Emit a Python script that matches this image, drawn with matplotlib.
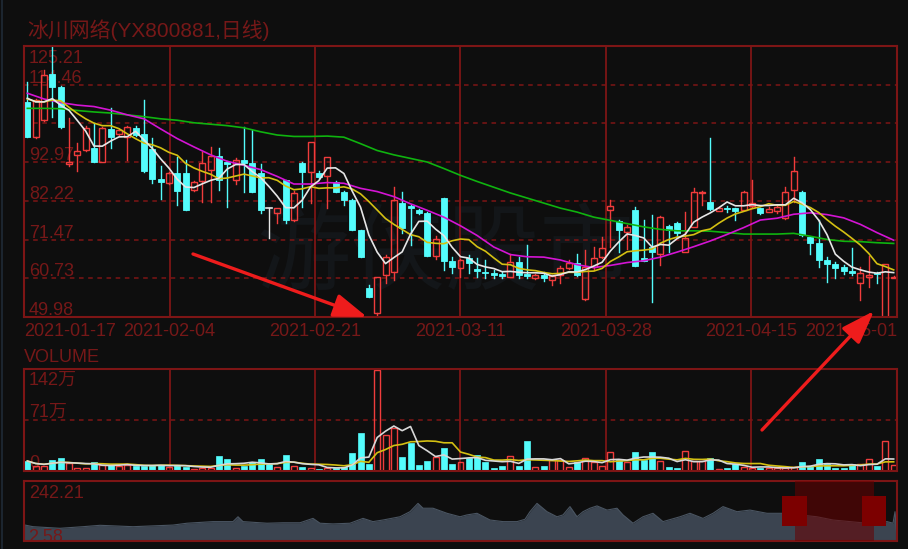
import numpy as np
import pandas as pd
import matplotlib
matplotlib.use('Agg')
import matplotlib.pyplot as plt
from matplotlib.patches import Rectangle

W, H = 908, 549
BG = '#0e0e0e'
RED = '#f03c3c'
CYAN = '#54fcfc'
DOJI = '#e8e8e8'
GRID = '#7d1515'
TXT = '#761818'
ARROW = '#ee1c1c'

title = '冰川网络(YX800881,日线)'
date_labels = ['2021-01-17', '2021-02-04', '2021-02-21', '2021-03-11',
               '2021-03-28', '2021-04-15', '2021-05-01']
price_levels = [49.98, 60.73, 71.47, 82.22, 92.97, 103.72, 114.46, 125.21]
price_shown = ['49.98', '60.73', '71.47', '82.22', '92.97', '', '114.46', '125.21']
vol_levels = [0, 71, 142]
vol_labels = ['0', '71万', '142万']
nav_labels = ['242.21', '2.58']

opens = [109.75, 100.0, 104.7, 117.4, 113.9, 92.5, 95.0, 96.3, 97.0, 93.1,
         102.1, 100.8, 100.0, 102.4, 100.7, 96.5, 88.2, 87.1, 89.9, 89.9,
         85.2, 87.8, 90.8, 94.7, 93.1, 88.0, 93.7, 92.8, 90.0, 80.15,
         78.8, 88.0, 76.9, 92.8, 90.3, 89.9, 89.1, 87.5, 84.8, 82.5,
         74.1, 57.9, 51.0, 61.6, 62.6, 81.7, 80.8, 79.7, 78.8, 66.9,
         82.9, 65.6, 63.7, 66.3, 63.2, 62.6, 62.1, 61.9, 61.2, 65.3,
         61.8, 60.8, 61.6, 60.2, 61.6, 63.7, 64.9, 54.9, 63.9, 66.7,
         79.8, 76.6, 73.6, 79.7, 66.3, 69.5, 67.6, 75.3, 76.2, 68.1,
         75.1, 84.4, 82.0, 79.5, 80.2, 80.15, 79.7, 80.8, 80.15, 79.2,
         79.5, 77.4, 85.2, 84.8, 72.1, 70.6, 65.8, 64.7, 63.8, 62.8,
         59.5, 61.0, 62.3, 49.6, 60.9]
highs = [115.3, 110.5, 118.5, 125.2, 114.2, 105.2, 98.3, 103.0, 103.7, 102.6,
         107.9, 102.2, 103.0, 103.0, 110.2, 99.6, 91.9, 90.2, 94.5, 93.6,
         87.8, 95.9, 97.3, 97.0, 93.4, 94.0, 102.8, 101.9, 92.5, 80.3,
         80.3, 88.1, 85.0, 92.9, 98.6, 90.5, 94.3, 87.6, 85.0, 82.6,
         74.2, 58.9, 61.2, 67.2, 86.1, 84.8, 81.0, 80.0, 79.2, 72.5,
         83.0, 66.7, 66.0, 67.2, 66.4, 65.7, 63.0, 62.5, 67.6, 66.7,
         70.0, 61.8, 62.6, 61.6, 64.2, 65.8, 67.6, 68.6, 69.5, 72.3,
         82.5, 76.8, 75.5, 80.5, 76.9, 78.3, 77.9, 75.5, 76.4, 79.2,
         85.7, 84.9, 99.6, 80.5, 80.8, 80.3, 84.9, 88.0, 80.3, 80.5,
         80.7, 86.1, 94.3, 84.9, 72.3, 76.9, 66.7, 65.3, 64.3, 69.0,
         63.9, 66.9, 62.4, 64.8, 61.3]
lows = [100.0, 99.8, 104.5, 105.6, 102.4, 92.0, 90.6, 96.0, 93.0, 93.0,
        96.8, 100.5, 93.7, 100.3, 90.3, 87.1, 82.6, 86.8, 81.1, 79.6,
        85.0, 82.0, 82.0, 85.2, 80.6, 87.0, 84.8, 84.7, 78.8, 71.8,
        76.0, 76.0, 76.7, 80.6, 81.6, 88.5, 80.1, 84.6, 81.1, 74.0,
        66.5, 55.4, 49.6, 59.3, 60.2, 73.2, 70.0, 78.5, 66.8, 66.0,
        63.0, 62.1, 61.2, 62.2, 61.2, 60.7, 60.7, 60.7, 61.0, 60.7,
        60.7, 60.6, 59.9, 58.9, 59.5, 63.3, 61.5, 54.8, 63.0, 66.3,
        69.5, 68.1, 68.9, 64.0, 65.4, 54.2, 64.4, 68.1, 72.5, 68.0,
        75.0, 81.1, 79.8, 79.3, 79.2, 76.9, 79.6, 80.6, 78.5, 79.0,
        78.9, 77.3, 82.0, 72.6, 67.6, 63.9, 59.8, 60.7, 62.0, 61.6,
        54.7, 58.4, 59.3, 49.5, 60.8]
closes = [100.03, 110.2, 117.2, 113.9, 102.6, 92.9, 96.1, 102.5, 93.1, 102.4,
          100.0, 101.9, 102.8, 100.5, 90.5, 88.2, 87.5, 89.9, 85.0, 79.7,
          87.5, 92.6, 94.7, 88.0, 92.5, 93.7, 92.8, 84.8, 79.7, 80.15,
          80.2, 76.9, 84.5, 90.3, 98.6, 88.9, 94.3, 84.8, 82.5, 74.1,
          66.7, 55.6, 61.0, 66.6, 82.5, 74.6, 80.15, 78.8, 66.9, 71.5,
          65.6, 63.8, 65.8, 64.9, 62.8, 62.1, 61.6, 61.4, 65.3, 61.6,
          61.4, 61.6, 60.7, 61.4, 63.7, 65.1, 61.6, 63.9, 66.3, 69.0,
          80.8, 74.1, 75.0, 64.1, 65.6, 68.1, 77.8, 74.0, 73.2, 71.8,
          84.8, 84.8, 79.9, 80.15, 79.9, 79.5, 84.8, 81.5, 78.9, 80.0,
          80.4, 84.8, 90.6, 72.7, 70.4, 65.8, 64.7, 63.5, 62.8, 62.3,
          62.1, 61.6, 61.9, 64.7, 61.2]
volumes = [13.9, 7, 7, 15.3, 17.6, 10.7, 4.6, 3.7, 13, 8.3,
           8.3, 7, 8.3, 7.4, 7.4, 8.3, 8.3, 6, 8.3, 6,
           2.8, 4.6, 4.6, 21.3, 16.7, 3.7, 7.4, 12, 16.7, 9.3,
           6, 22.3, 7.4, 6, 4.6, 2.8, 3.7, 4.6, 6, 24.6,
           52.4, 9.3, 141.0, 50, 60.3, 20, 38.5, 8.3, 13.9, 20,
           31.5, 9.3, 12, 18.6, 22.3, 12, 4.6, 7.4, 21.3, 7.4,
           42.2, 6, 7.4, 15.3, 15.3, 6, 13, 18.6, 13, 7.4,
           26.9, 15.3, 13, 26.9, 15.3, 26.9, 13.9, 6, 3.7, 27.8,
           13.9, 13.9, 17.6, 2.8, 3.7, 9.3, 6, 4.6, 4.6, 3.7,
           3.7, 4.6, 6, 12, 7.4, 16.7, 9.3, 4.6, 4.6, 9.3,
           9.3, 16.7, 7.4, 41.8, 8.3]

# moving-average heads (before enough history)
ma5_head = [110.7, 109.7, 109.7, 110.6]
ma10_head = [110.5, 109.8, 109.7, 110.2, 110.0, 108.2, 106.5, 105.0, 103.8]
# MA20 (magenta) and MA60 (green), read at every second candle
ma20_even = [112.1, 110.5, 109.5, 108.8, 108.4, 107.4, 106.1, 105.0, 102.2, 99.5,
             97.2, 95.0, 93.2, 92.1, 90.9, 89.0, 86.9, 86.9, 87.3, 87.1,
             85.7, 84.8, 83.4, 81.4, 79.6, 77.7, 75.3, 72.6, 69.4, 67.3,
             66.7, 66.6, 65.8, 64.5, 63.7, 64.3, 65.1, 65.6, 66.6, 68.0,
             69.5, 71.1, 72.9, 74.8, 76.9, 77.4, 78.5, 78.9, 78.4, 77.5,
             75.7, 73.4, 71.3]
ma60_even = [107.9, 107.9, 107.8, 107.3, 106.9, 106.6, 106.1, 105.6, 105.0, 104.6,
             103.9, 103.5, 103.1, 102.5, 101.4, 100.5, 100.1, 100.1, 100.2, 99.9,
             98.1, 96.2, 95.0, 94.0, 93.0, 91.2, 89.3, 87.6, 86.0, 84.4,
             83.0, 81.6, 80.2, 79.1, 77.7, 76.8, 75.9, 75.0, 74.3, 73.9,
             73.9, 73.8, 73.4, 73.0, 73.0, 73.0, 73.2, 72.4, 71.5, 71.0,
             70.9, 70.6, 70.4]

# long-history navigator (position along history, price)
nav_day = [0, 1, 9, 36, 59, 76, 109, 126, 149, 163, 189, 209, 214, 219, 243, 259,
           276, 289, 296, 309, 326, 339, 349, 359, 376, 386, 394, 399, 409, 423,
           436, 443, 453, 466, 479, 493, 501, 506, 513, 523, 533, 539, 546, 553,
           559, 566, 573, 583, 593, 599, 609, 619, 629, 639, 656, 666, 679, 689,
           699, 713, 726, 743, 759, 776, 793, 809, 826, 843, 856, 863, 869, 871, 873]
nav_val = [64, 64, 57, 50, 57, 63, 57, 60, 64, 72, 79, 79, 100, 79, 72, 74,
           74, 93, 72, 69, 72, 93, 79, 86, 100, 122, 158, 137, 137, 115,
           100, 108, 115, 86, 79, 79, 89, 122, 158, 122, 100, 108, 144, 100,
           122, 137, 147, 129, 137, 108, 72, 100, 115, 79, 100, 115, 93, 115,
           144, 122, 129, 115, 115, 108, 100, 86, 79, 72, 72, 79, 72, 122, 0]

n = len(closes)
idx = np.arange(n)
s = pd.Series(closes)
ma5 = s.rolling(5).mean().to_numpy()
ma5[:4] = ma5_head
ma10 = s.rolling(10).mean().to_numpy()
ma10[:9] = ma10_head
ev = np.arange(0, n, 2)
vs = pd.Series(volumes)
vma5 = vs.rolling(5, min_periods=1).mean()
vma10 = vs.rolling(10, min_periods=1).mean()

fig = plt.figure(figsize=(W / 100, H / 100), dpi=100, facecolor=BG)


def pax(l, t, r, b, z=1):
    a = fig.add_axes([l / W, 1 - b / H, (r - l) / W, (b - t) / H], zorder=z)
    a.set_facecolor('none')
    return a


# bottom overlay (labels, watermark)
ov = fig.add_axes([0, 0, 1, 1], zorder=0)
ov.set_xlim(0, W); ov.set_ylim(H, 0); ov.axis('off')
ov.set_facecolor(BG)
ov.plot([2, 2], [0, H], color='#1f2a36', lw=1.2)
ov.text(445, 255, '游侠股市', fontsize=68, color='#131619', ha='center', va='center',
        family=['Noto Sans CJK SC'])
LAT = ['Liberation Sans', 'Noto Sans CJK SC']
ov.text(27, 30, title, fontsize=15, color=TXT, ha='left', va='center', family=LAT)
ov.text(24, 357, 'VOLUME', fontsize=13, color=TXT, ha='left', va='center', family=LAT)

PT, PB, PTOP, PBOT = 46, 317, 125.21, 49.98
for v, lab in zip(price_levels, price_shown):
    if not lab:
        continue
    ypx = PT + (PTOP - v) / (PTOP - PBOT) * (PB - PT)
    yb = 63 if v == PTOP else ypx - 2
    ov.text(29, yb, lab, fontsize=13, color=TXT, ha='left', va='baseline', family=LAT)

gx = [24 + k * 873 / 6 for k in range(7)]
for k, lab in enumerate(date_labels):
    ha = 'left' if k == 0 else ('right' if k == 6 else 'center')
    ov.text(gx[k], 331, lab, fontsize=13, color=TXT, ha=ha, va='center', family=LAT)

VT, VB = 369, 471
for v, lab in zip(vol_levels, vol_labels):
    ypx = VB - v / 142 * (VB - VT)
    yb = 385 if v == 142 else ypx - 3
    ov.text(29, yb, lab, fontsize=13, color=TXT, ha='left', va='baseline', family=LAT)
ov.text(29, 498, nav_labels[0], fontsize=13, color=TXT, ha='left', va='baseline', family=LAT)

# main price axes
ax = pax(24, 46, 897, 317)
X0, X1 = -0.4, 104.4
ax.set_xlim(X0, X1); ax.set_ylim(PBOT, PTOP)
ax.set_xticks([]); ax.set_yticks([])
for sp in ax.spines.values():
    sp.set_color(GRID); sp.set_linewidth(1.5)
for v in price_levels[1:-1]:
    ax.axhline(v, color=GRID, lw=1.1, ls=(0, (3, 3)), zorder=0.5)
for k in range(1, 6):
    ax.axvline(X0 + k * (X1 - X0) / 6, color=GRID, lw=1.3, zorder=0.5)

bw = 0.72
for i in range(n):
    o, h, l, c = opens[i], highs[i], lows[i], closes[i]
    if c > o:
        ax.plot([i, i], [c, h], color=RED, lw=1.0, zorder=2)
        ax.plot([i, i], [l, o], color=RED, lw=1.0, zorder=2)
        ax.add_patch(Rectangle((i - bw / 2, o), bw, max(c - o, 0.25), facecolor='none',
                               edgecolor=RED, lw=1.0, zorder=2))
    elif c < o:
        ax.plot([i, i], [l, h], color=CYAN, lw=1.0, zorder=2)
        ax.add_patch(Rectangle((i - bw / 2, c), bw, max(o - c, 0.35), facecolor=CYAN,
                               edgecolor=CYAN, lw=0.6, zorder=2))
    else:
        ax.plot([i, i], [l, h], color=DOJI, lw=1.0, zorder=2)
        ax.plot([i - bw / 2, i + bw / 2], [c, c], color=DOJI, lw=1.2, zorder=2)

ax.plot(ev, ma60_even, color='#0fb30f', lw=1.2, zorder=3)
ax.plot(ev, ma20_even, color='#d414d4', lw=1.2, zorder=3)
ax.plot(idx, ma10, color='#d4c012', lw=1.2, zorder=3)
ax.plot(idx, ma5, color='#e6e6e6', lw=1.2, zorder=3)

# volume axes
vx = pax(24, VT, 897, VB)
vx.set_xlim(X0, X1); vx.set_ylim(0, 142)
vx.set_xticks([]); vx.set_yticks([])
for sp in vx.spines.values():
    sp.set_color(GRID); sp.set_linewidth(1.5)
vx.axhline(71, color=GRID, lw=1.1, ls=(0, (3, 3)), zorder=0.5)
for k in range(1, 6):
    vx.axvline(X0 + k * (X1 - X0) / 6, color=GRID, lw=1.3, zorder=0.5)
for i in range(n):
    up = closes[i] > opens[i]
    if up:
        vx.add_patch(Rectangle((i - bw / 2, 0), bw, volumes[i], facecolor='none',
                               edgecolor=RED, lw=1.0, zorder=2))
    else:
        vx.add_patch(Rectangle((i - bw / 2, 0), bw, volumes[i], facecolor=CYAN,
                               edgecolor=CYAN, lw=0.5, zorder=2))
vx.plot(idx, vma10, color='#d4c012', lw=1.2, zorder=3)
vx.plot(idx, vma5, color='#d8d8d8', lw=1.2, zorder=3)

# navigator axes
nx = pax(24, 481, 897, 541)
nx.set_xlim(0, 873); nx.set_ylim(-5, 255)
nx.set_xticks([]); nx.set_yticks([])
for sp in nx.spines.values():
    sp.set_color(GRID); sp.set_linewidth(1.5)
nx.fill_between(nav_day, 0, nav_val, color='#3b4450', lw=0, zorder=1)
nx.plot(nav_day, nav_val, color='#4a5562', lw=0.8, zorder=1)
nx.text(4, 12, nav_labels[1], fontsize=13, color=TXT, ha='left', va='center',
        family=LAT, zorder=2)
nx.axvspan(771, 850, color='#6a0000', alpha=0.55, lw=0, zorder=3)
hb = (541 - 526) / 60 * 260 - 5
ht = (541 - 496) / 60 * 260 - 5
nx.add_patch(Rectangle((758, hb), 25, ht - hb, facecolor='#7c0000', lw=0, zorder=4))
nx.add_patch(Rectangle((838, hb), 24, ht - hb, facecolor='#7c0000', lw=0, zorder=4))

# top overlay (arrows)
top = fig.add_axes([0, 0, 1, 1], zorder=10)
top.set_xlim(0, W); top.set_ylim(H, 0); top.axis('off')
top.set_facecolor('none')
for (x0, y0, x1, y1) in [(193, 254, 367, 317), (762, 430, 874, 311)]:
    top.annotate('', xy=(x1, y1), xytext=(x0, y0),
                 arrowprops=dict(arrowstyle='-|>,head_length=1.7,head_width=0.6',
                                 color=ARROW, lw=2.4, mutation_scale=12,
                                 shrinkA=0, shrinkB=0))

fig.savefig('out.png', dpi=100, facecolor=BG)
